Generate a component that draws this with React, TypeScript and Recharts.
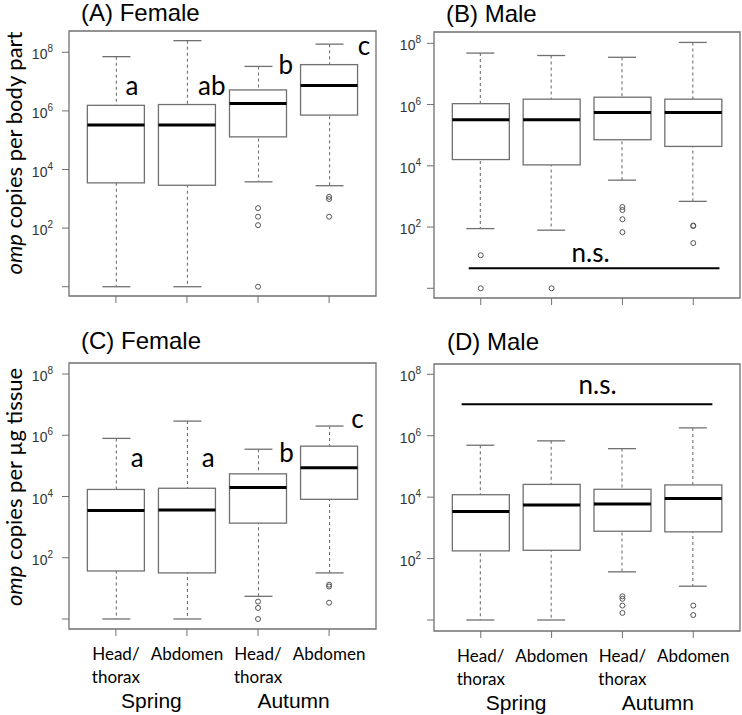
import { ComposedChart, Bar, Scatter, XAxis, YAxis, ReferenceArea, ReferenceLine } from 'recharts'

// groups on the x axis, left to right
const groups = ['Head/thorax', 'Abdomen', 'Head/thorax', 'Abdomen']
const seasons = ['Spring', 'Spring', 'Autumn', 'Autumn']
const yTicks = [1, 1e2, 1e4, 1e6, 1e8]

// (A) Female, omp copies per body part
const aUpper = [7.1e7, 2.5e8, 3.3e7, 1.9e8]
const aQ3 = [1.55e6, 1.65e6, 5.2e6, 3.8e7]
const aMedian = [3.3e5, 3.3e5, 1.8e6, 7.4e6]
const aQ1 = [3.5e3, 2.9e3, 1.3e5, 7.2e5]
const aLower = [1, 1, 3.8e3, 2.8e3]
const aOutliers = [[], [], [480, 245, 126, 1], [1170, 980, 245]]
const aLetters = ['a', 'ab', 'b', 'c']

// (B) Male, omp copies per body part
const bUpper = [4.8e7, 4.0e7, 3.5e7, 1.07e8]
const bQ3 = [1.07e6, 1.5e6, 1.74e6, 1.5e6]
const bMedian = [3.2e5, 3.2e5, 5.5e5, 5.5e5]
const bQ1 = [1.6e4, 1.07e4, 7.1e4, 4.3e4]
const bLower = [89, 79, 3.4e3, 690]
const bOutliers = [[12, 1], [1], [450, 360, 180, 68], [112, 108, 30]]

// (C) Female, omp copies per µg tissue
const cUpper = [7.9e5, 2.9e6, 3.5e5, 2.0e6]
const cQ3 = [1.7e4, 1.86e4, 5.5e4, 4.4e5]
const cMedian = [3.5e3, 3.6e3, 1.95e4, 8.7e4]
const cQ1 = [37, 32, 1.35e3, 8.1e3]
const cLower = [1, 1, 5.5, 32]
const cOutliers = [[], [], [3.7, 2.3, 1], [13.2, 11.5, 3.4]]
const cLetters = ['a', 'a', 'b', 'c']

// (D) Male, omp copies per µg tissue
const dUpper = [4.9e5, 6.8e5, 3.8e5, 1.8e6]
const dQ3 = [1.2e4, 2.6e4, 1.8e4, 2.5e4]
const dMedian = [3.4e3, 5.5e3, 6.0e3, 9.1e3]
const dQ1 = [178, 186, 776, 741]
const dLower = [1, 1, 37, 12.6]
const dOutliers = [[], [], [5.9, 4.9, 2.95, 1.7], [2.95, 1.45]]

const GRAY = '#707070'
const BOX_W = 57
const CAP_W = 28
const X_DOMAIN = [0.34, 4.66]
const X_TICKS = [1, 2, 3, 4]
const SANS = '"Liberation Sans", Arial, sans-serif'
const CAL = 'Lato, "Open Sans", sans-serif'

// season labels sit under the middle of their groups
const seasonNames = seasons.filter((s, i) => seasons.indexOf(s) === i)
const seasonTicks = seasonNames.map((s) => {
  const idx = seasons.map((t, i) => (t === s ? i + 1 : 0)).filter((v) => v > 0)
  return idx.reduce((a, b) => a + b, 0) / idx.length
})
const bottomTicks = [...X_TICKS, ...seasonTicks].sort((a, b) => a - b)

function buildRows(lower: number[], q1: number[], median: number[], q3: number[], upper: number[]) {
  return groups.map((g, i) => ({ x: i + 1, group: g, lower: lower[i], q1: q1[i], median: median[i], q3: q3[i], upper: upper[i] }))
}

const Whisker = (p: any) => {
  const cx = p.x + p.width / 2
  return (
    <g>
      <line x1={cx} x2={cx} y1={p.y} y2={p.y + p.height} stroke={GRAY} strokeWidth={1.1} strokeDasharray="3 3" />
      <line x1={p.x} x2={p.x + p.width} y1={p.y} y2={p.y} stroke={GRAY} strokeWidth={1.3} />
      <line x1={p.x} x2={p.x + p.width} y1={p.y + p.height} y2={p.y + p.height} stroke={GRAY} strokeWidth={1.3} />
    </g>
  )
}

const BoxShape = (p: any) => (
  <rect x={p.x} y={p.y} width={p.width} height={p.height} fill="#fff" stroke={GRAY} strokeWidth={1.3} />
)

const MedianLine = (p: any) => (
  <line x1={p.cx - BOX_W / 2} x2={p.cx + BOX_W / 2} y1={p.cy} y2={p.cy} stroke="#000" strokeWidth={3} />
)

const Outlier = (p: any) => <circle cx={p.cx} cy={p.cy} r={2.5} fill="none" stroke="#555" strokeWidth={1} />

const NoteText = (p: any) => (
  <text x={p.cx} y={p.cy} textAnchor="middle" fontFamily={CAL} fontSize={26} fill="#000">
    {p.payload.text}
  </text>
)

const PowTick = (p: any) => {
  const exp = Math.round(Math.log10(p.payload.value))
  if (exp === 0) return <g />
  return (
    <text x={p.x} y={p.y} textAnchor="end" fontFamily={SANS} fontSize={14} fill="#333">
      <tspan dy={7}>10</tspan>
      <tspan dy={-7} fontSize={10}>{exp}</tspan>
    </text>
  )
}

// bottom row: tick mark + group name, or the season name under a group pair
const BottomTick = (p: any) => {
  const v = Number(p.payload.value)
  const si = seasonTicks.findIndex((t) => Math.abs(t - v) < 1e-6)
  if (si >= 0) {
    return (
      <text x={p.x} y={p.y + 70} textAnchor="middle" fontFamily={SANS} fontSize={21} fill="#000">
        {seasonNames[si]}
      </text>
    )
  }
  const g = groups[Math.round(v) - 1] || ''
  const cut = g.indexOf('/')
  const lines = cut >= 0 ? [g.slice(0, cut + 1), g.slice(cut + 1)] : [g]
  return (
    <g>
      <line x1={p.x} x2={p.x} y1={p.y - 9} y2={p.y - 2} stroke={GRAY} />
      {lines.map((l, i) => (
        <text key={i} x={p.x} y={p.y + 22 + i * 23} textAnchor="middle" fontFamily={CAL} fontSize={17} fill="#000">
          {l}
        </text>
      ))}
    </g>
  )
}

interface Layout {
  left: number
  top: number
  width: number
  height: number
  margin: { top: number; right: number; bottom: number; left: number }
  yAxisWidth: number
  tickMargin: number
  yDomain: [number, number] // log10 limits
  bottom: boolean
  letterAt?: [number, number][]
  ns?: { from: number; to: number; y: number; textX: number; textY: number }
}

function Panel({ rows, outliers, letters, layout }: { rows: any[]; outliers: number[][]; letters?: string[]; layout: Layout }) {
  const outlierRows = outliers.flatMap((vals, i) => vals.map((v) => ({ x: i + 1, v })))
  const notes: { x: number; v: number; text: string }[] = []
  if (letters && layout.letterAt) {
    letters.forEach((t, i) => notes.push({ x: layout.letterAt![i][0], v: layout.letterAt![i][1], text: t }))
  }
  if (layout.ns) notes.push({ x: layout.ns.textX, v: layout.ns.textY, text: 'n.s.' })
  const yLo = 10 ** layout.yDomain[0]
  const yHi = 10 ** layout.yDomain[1]

  return (
    <div style={{ position: 'absolute', left: layout.left, top: layout.top }}>
      <ComposedChart width={layout.width} height={layout.height} data={rows} margin={layout.margin}>
        {layout.bottom ? (
          <XAxis
            xAxisId={0}
            dataKey="x"
            type="number"
            domain={X_DOMAIN}
            ticks={bottomTicks}
            interval={0}
            allowDataOverflow
            axisLine={false}
            tickLine={false}
            tickSize={7}
            tickMargin={2}
            height={83}
            tick={BottomTick}
          />
        ) : (
          <XAxis
            xAxisId={0}
            dataKey="x"
            type="number"
            domain={X_DOMAIN}
            ticks={X_TICKS}
            interval={0}
            allowDataOverflow
            axisLine={false}
            tickLine={{ stroke: GRAY }}
            tickSize={7}
            height={20}
            tick={() => <g />}
          />
        )}
        <XAxis xAxisId="w" dataKey="x" type="number" domain={X_DOMAIN} ticks={X_TICKS} allowDataOverflow hide />
        <XAxis xAxisId="b" dataKey="x" type="number" domain={X_DOMAIN} ticks={X_TICKS} allowDataOverflow hide />
        <YAxis
          type="number"
          scale="log"
          domain={[yLo, yHi]}
          allowDataOverflow
          ticks={yTicks}
          interval={0}
          width={layout.yAxisWidth}
          axisLine={false}
          tickLine={{ stroke: GRAY }}
          tickSize={7}
          tickMargin={layout.tickMargin}
          tick={PowTick}
        />
        <ReferenceArea x1={X_DOMAIN[0]} x2={X_DOMAIN[1]} y1={yLo} y2={yHi} fill="none" stroke={GRAY} strokeWidth={1.3} fillOpacity={0} ifOverflow="visible" />
        <Bar xAxisId="w" dataKey={(d: any) => [d.lower, d.upper]} barSize={CAP_W} shape={Whisker} isAnimationActive={false} />
        <Bar xAxisId="b" dataKey={(d: any) => [d.q1, d.q3]} barSize={BOX_W} shape={BoxShape} isAnimationActive={false} />
        <Scatter dataKey="median" shape={MedianLine} isAnimationActive={false} />
        <Scatter data={outlierRows} dataKey="v" shape={Outlier} isAnimationActive={false} />
        {layout.ns && (
          <ReferenceLine
            segment={[
              { x: layout.ns.from, y: layout.ns.y },
              { x: layout.ns.to, y: layout.ns.y },
            ]}
            stroke="#000"
            strokeWidth={2}
            ifOverflow="visible"
          />
        )}
        <Scatter data={notes} dataKey="v" shape={NoteText} isAnimationActive={false} />
      </ComposedChart>
    </div>
  )
}

const layoutA: Layout = {
  left: 0, top: 0, width: 380, height: 320,
  margin: { top: 31, right: 4, bottom: 4, left: 0 },
  yAxisWidth: 69, tickMargin: 9, yDomain: [-0.317, 8.727], bottom: false,
  letterAt: [[1.225, 3.5e6], [2.35, 3.5e6], [3.39, 1.8e7], [4.49, 8.1e7]],
}
const layoutB: Layout = {
  left: 371, top: 0, width: 371, height: 320,
  margin: { top: 32, right: 2, bottom: 2, left: 0 },
  yAxisWidth: 63, tickMargin: 6, yDomain: [-0.317, 8.37], bottom: false,
  ns: { from: 0.83, to: 4.37, y: 4.5, textX: 2.55, textY: 7.4 },
}
const layoutC: Layout = {
  left: 0, top: 320, width: 380, height: 395,
  margin: { top: 43, right: 4, bottom: 3, left: 0 },
  yAxisWidth: 69, tickMargin: 9, yDomain: [-0.327, 8.36], bottom: true,
  letterAt: [[1.3, 9.4e4], [2.3, 9.4e4], [3.4, 1.37e5], [4.4, 1.7e6]],
}
const layoutD: Layout = {
  left: 371, top: 320, width: 371, height: 395,
  margin: { top: 44, right: 2, bottom: 1, left: 0 },
  yAxisWidth: 63, tickMargin: 6, yDomain: [-0.358, 8.335], bottom: true,
  ns: { from: 0.73, to: 4.27, y: 1.05e7, textX: 2.65, textY: 2.3e7 },
}

export default function App() {
  return (
    <div style={{ position: 'absolute', left: 0, top: 0, width: 742, height: 715, background: '#fff', overflow: 'hidden' }}>
      <svg width={742} height={715} style={{ position: 'absolute', left: 0, top: 0 }}>
        <text x={81} y={21} fontFamily={SANS} fontSize={24}>(A) Female</text>
        <text x={446} y={22} fontFamily={SANS} fontSize={24}>(B) Male</text>
        <text x={81} y={349} fontFamily={SANS} fontSize={24}>(C) Female</text>
        <text x={447} y={350} fontFamily={SANS} fontSize={24}>(D) Male</text>
        <text transform="translate(22,153) rotate(-90)" textAnchor="middle" fontFamily={CAL} fontSize={22}>
          <tspan fontStyle="italic">omp</tspan> copies per body part
        </text>
        <text transform="translate(22,487) rotate(-90)" textAnchor="middle" fontFamily={CAL} fontSize={22}>
          <tspan fontStyle="italic">omp</tspan> copies per µg tissue
        </text>
      </svg>
      <Panel rows={buildRows(aLower, aQ1, aMedian, aQ3, aUpper)} outliers={aOutliers} letters={aLetters} layout={layoutA} />
      <Panel rows={buildRows(bLower, bQ1, bMedian, bQ3, bUpper)} outliers={bOutliers} layout={layoutB} />
      <Panel rows={buildRows(cLower, cQ1, cMedian, cQ3, cUpper)} outliers={cOutliers} letters={cLetters} layout={layoutC} />
      <Panel rows={buildRows(dLower, dQ1, dMedian, dQ3, dUpper)} outliers={dOutliers} layout={layoutD} />
    </div>
  )
}
